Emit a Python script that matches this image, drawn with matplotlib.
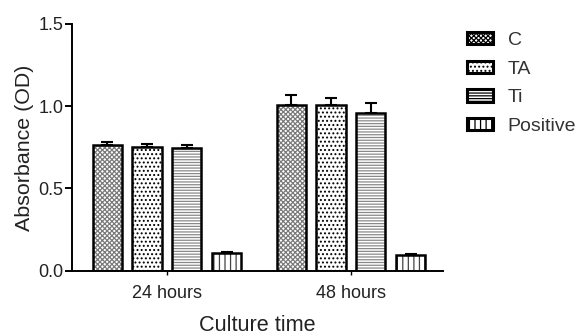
import numpy as np
import matplotlib.pyplot as plt

plt.rcParams['font.family'] = ['Liberation Sans', 'DejaVu Sans']
plt.rcParams['hatch.linewidth'] = 0.9

groups = ["24 hours", "48 hours"]
series = ["C", "TA", "Ti", "Positive"]
means = {
    "C": [0.766, 1.006],
    "TA": [0.755, 1.010],
    "Ti": [0.748, 0.960],
    "Positive": [0.106, 0.095],
}
errs = {
    "C": [0.015, 0.060],
    "TA": [0.015, 0.040],
    "Ti": [0.018, 0.060],
    "Positive": [0.008, 0.008],
}
hatches = {"C": "xxxxxxx", "TA": "....", "Ti": "------", "Positive": "|||"}
hatch_colors = {"C": "#7a7a7a", "TA": "black", "Ti": "#8a8a8a", "Positive": "#444444"}

fig = plt.figure(figsize=(5.78, 3.36), dpi=100)
ax = fig.add_axes([72 / 578, 1 - 270.7 / 336, (443 - 72) / 578, (270.7 - 24) / 336])

x = np.arange(len(groups))
offset = 0.217
width = 0.158
for i, name in enumerate(series):
    pos = x + (i - 1.5) * offset
    ax.bar(pos, means[name], width, color="white", edgecolor=hatch_colors[name],
           hatch=hatches[name], linewidth=0, label=name, zorder=2)
    # black outline drawn separately so hatch colour can differ
    ax.bar(pos, means[name], width, fill=False, edgecolor="black", linewidth=1.8, zorder=3)
    ax.errorbar(pos, means[name], yerr=[np.zeros(len(groups)), errs[name]],
                fmt="none", ecolor="black", elinewidth=1.5, capsize=4.5, capthick=1.5, zorder=4)

ax.set_xlim(-0.516, 1.5)
ax.set_ylim(0, 1.5)
ax.set_yticks([0.0, 0.5, 1.0, 1.5])
ax.set_yticklabels(["0.0", "0.5", "1.0", "1.5"])
ax.set_xticks(x)
ax.set_xticklabels(groups)
ax.spines["top"].set_visible(False)
ax.spines["right"].set_visible(False)
ax.spines["left"].set_linewidth(1.4)
ax.spines["bottom"].set_linewidth(1.4)
ax.tick_params(axis="y", length=5, width=1.4, labelsize=13, pad=1, labelcolor="#222222")
ax.tick_params(axis="x", length=3, width=1.0, labelsize=13, pad=7, labelcolor="#222222")
ax.set_ylabel("Absorbance (OD)", fontsize=15.4, labelpad=3, color="#222222")
ax.set_xlabel("Culture time", fontsize=15.6, labelpad=10, color="#222222")

handles = []
for name in series:
    h = plt.Rectangle((0, 0), 1, 1, facecolor="white", edgecolor="black",
                      hatch=hatches[name], linewidth=2.2)
    handles.append(h)
fig.legend(handles, series, loc="upper left", bbox_to_anchor=(467 / 578, 1 - 32 / 336),
           frameon=False, fontsize=14, handlelength=1.35, handleheight=0.6,
           labelspacing=0.6, handletextpad=0.75, borderpad=0, borderaxespad=0,
           labelcolor="#333333")

fig.savefig("out.png", dpi=100)
